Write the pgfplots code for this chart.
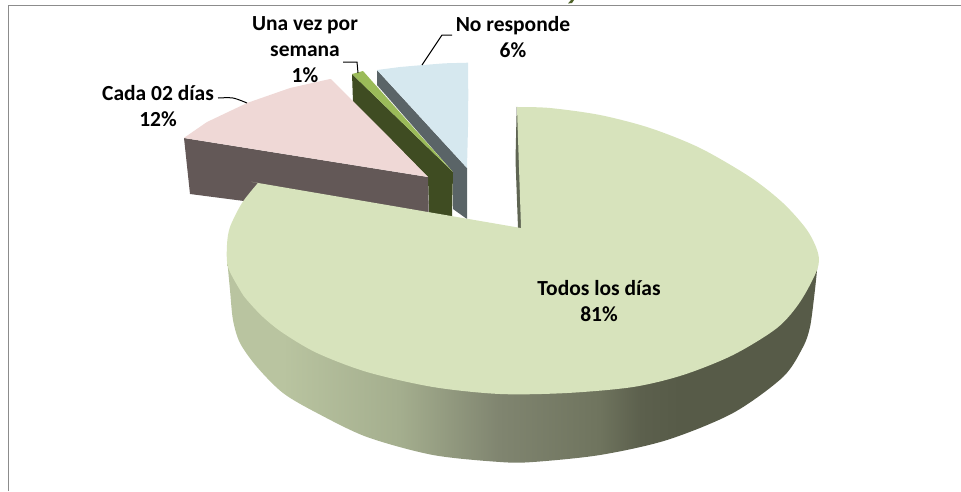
\documentclass[border=0pt]{standalone}
\usepackage{pgfplots}
\pgfplotsset{compat=1.18}
\usepackage{fontspec}
\setmainfont{Carlito}
\definecolor{topmain}{HTML}{D7E3BC}
\definecolor{toppink}{HTML}{EFD8D6}
\definecolor{sidepink}{HTML}{635857}
\definecolor{topgreen}{HTML}{9BBB59}
\definecolor{sidegreen}{HTML}{3F4C22}
\definecolor{topblue}{HTML}{D6E8EF}
\definecolor{sideblue}{HTML}{5A6467}
\definecolor{cutedge}{HTML}{5F6553}
\definecolor{frame}{HTML}{8C8C8C}
\definecolor{sa}{HTML}{B9C4A0}
\definecolor{sb}{HTML}{A4AE8E}
\definecolor{sc}{HTML}{808570}
\definecolor{sd}{HTML}{6F745E}
\definecolor{se}{HTML}{5C604D}
\definecolor{sf}{HTML}{575B48}
\definecolor{titlegreen}{HTML}{4F6228}
\pgfdeclarehorizontalshading{mainside}{100bp}{
 color(0bp)=(sa); color(29.7bp)=(sa); color(39.6bp)=(sb); color(48bp)=(sc);
 color(56.5bp)=(sd); color(60bp)=(se); color(63.3bp)=(sf); color(100bp)=(sf)}
\begin{document}
\begin{tikzpicture}[x=1pt,y=1pt]
\useasboundingbox (0,0) rectangle (961,491);
\begin{axis}[at={(0,0)},anchor=south west,width=961pt,height=491pt,scale only axis,
 xmin=0,xmax=961,ymin=0,ymax=491,y dir=reverse,hide axis,clip=false]
% frame
\addplot[frame,line width=1pt] coordinates {(8,491)(8,5)(961,5)};
\addplot[draw=none,fill=titlegreen] coordinates {(568,3.5)(571,0)(574,0)(572,3)} --cycle;
% 6 percent wedge
\addplot[draw=none,fill=sideblue] coordinates {(377,70)(467,168)(467,219)(453,209)(453,172)(377,85)} --cycle;
\addplot[draw=none,fill=topblue] coordinates {(377,70)(400,67)(423,65)(445,63.3)(468,62.7)(468.3,95)(468,127)(467,168)} --cycle;
% 1 percent wedge
\addplot[draw=none,fill=sidegreen] coordinates {(352,74)(353,102)(428,177)(429,213)(452,217)(453,172)} --cycle;
\addplot[draw=none,fill=topgreen] coordinates {(352,74)(363,71)(452,171)} --cycle;
% 12 percent wedge
\addplot[draw=none,fill=sidepink] coordinates {(184,138)(428,177)(429,225)(190,194)} --cycle;
\addplot[draw=none,fill=toppink] coordinates {(184,138)(184.5,137.5)(207,122)(247,103)(290,88)(330,79)(331,79)(380,128)(428,177)} --cycle;
% main slice side
\addplot[draw=none,shade,shading=mainside,smooth,tension=0.5] coordinates {(227,258)(230,290)(233,320)(240,343)(257,367)(283,393)(317,413)(367,437)(433,455)(500,462)(533,462)(600,455)(667,440)(733,413)(783,377)(803,347)(810,327)(814,298)(817,270)(817,260)} --cycle;
% main slice cut edge
\addplot[draw=none,fill=cutedge] coordinates {(516.7,107)(515.5,160)(518,228)(522,228)(518,107)} --cycle;
% main slice top
\addplot[draw=none,fill=topmain,smooth,tension=0.5] coordinates {
 (516.7,107)(518,107)(550,108)(600,115)(650,128)(700,148)(750,177)(783,203)(807,230)(818,253)(817,270)(800,302)(777,328)(733,355)(683,375)(633,387)(567,393)(500,394)(433,387)(367,372)(317,353)(283,333)(263,317)(247,300)(240,290)(228,267)(227,245)(230,227)(242,203)(257,184)(258,183)(260,183.3)(390,205.5)(518,227.5)(520,228)(521,228)(521,227)(517,108)};
% leader lines
\addplot[black,line width=1pt] coordinates {(422,65)(442,35)(452,35)};
\addplot[black,line width=1pt] coordinates {(358,73)(357,62)(343,62)};
\addplot[black,line width=1pt,smooth] coordinates {(218,98)(233,98)(247,103)};
% labels
\node[font=\fontsize{21.5}{26}\selectfont\bfseries,align=center,inner sep=0pt] at (axis cs:305,50) {Una vez por\\semana\\1\%};
\node[font=\fontsize{21.5}{26}\selectfont\bfseries,align=center,inner sep=0pt] at (axis cs:513,37) {No responde\\6\%};
\node[font=\fontsize{21.5}{26}\selectfont\bfseries,align=center,inner sep=0pt] at (axis cs:158,106) {Cada 02 días\\12\%};
\node[font=\fontsize{21.5}{26}\selectfont\bfseries,align=center,inner sep=0pt] at (axis cs:599,301) {Todos los días\\81\%};
\end{axis}
\end{tikzpicture}
\end{document}
